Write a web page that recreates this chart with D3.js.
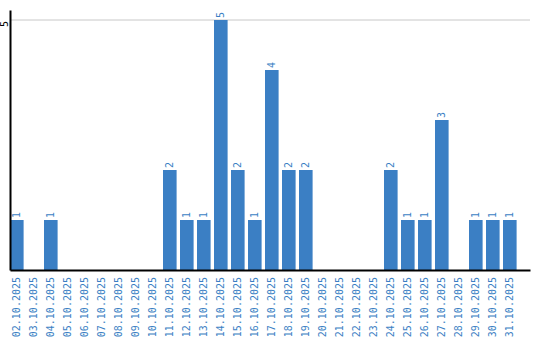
<!DOCTYPE html>
<html>
<head>
<meta charset="utf-8">
<script src="https://cdn.jsdelivr.net/npm/d3@7"></script>
<style>
  body { margin: 0; background: #fff; }
  svg { display: block; }
  text { font-family: "DejaVu Sans Mono", monospace; font-size: 10px; }
</style>
</head>
<body>
<svg id="chart" width="540" height="340"></svg>
<script>
// Days of October 2025 and the count for each day.
const days = ['02', '03', '04', '05', '06', '07', '08', '09', '10', '11',
  '12', '13', '14', '15', '16', '17', '18', '19', '20', '21',
  '22', '23', '24', '25', '26', '27', '28', '29', '30', '31'];
const categories = days.map(d => d + '.10.2025');
const counts = [1, 0, 1, 0, 0, 0, 0, 0, 0, 2,
  1, 1, 5, 2, 1, 4, 2, 2, 0, 0,
  0, 0, 2, 1, 1, 3, 0, 1, 1, 1];
const yTicks = [5];

const blue = '#3b7fc4';
const svg = d3.select('#chart');

const x = d3.scaleBand()
  .domain(categories)
  .range([10, 530])
  .paddingInner(0.2)
  .paddingOuter(0.394)
  .align(0);

const y = d3.scaleLinear()
  .domain([0, 5.2])
  .range([270, 10]);

// gridline for each y tick
svg.append('g')
  .selectAll('line')
  .data(yTicks)
  .enter().append('line')
  .attr('x1', 10).attr('x2', 530)
  .attr('y1', d => y(d)).attr('y2', d => y(d))
  .attr('stroke', '#c8c8c8')
  .attr('stroke-width', 1);

// bars
svg.append('g')
  .selectAll('rect')
  .data(counts)
  .enter().append('rect')
  .attr('x', (d, i) => x(categories[i]))
  .attr('y', d => y(d))
  .attr('width', x.bandwidth())
  .attr('height', d => y(0) - y(d))
  .attr('fill', blue);

// value labels, rotated, just above each non-empty bar
svg.append('g')
  .selectAll('text')
  .data(counts.map((v, i) => ({ v, c: categories[i] })).filter(d => d.v > 0))
  .enter().append('text')
  .attr('transform', d => `translate(${x(d.c) + x.bandwidth() / 2 + 3.5},${y(d.v) - 2}) rotate(-90)`)
  .attr('fill', blue)
  .text(d => d.v);

// x axis
const xAxis = svg.append('g')
  .attr('transform', `translate(0,${y(0)})`)
  .call(d3.axisBottom(x).tickSize(0).tickSizeOuter(0));
xAxis.select('.domain').attr('stroke', '#000').attr('stroke-width', 2);
xAxis.selectAll('text')
  .attr('fill', blue)
  .attr('font-family', '"DejaVu Sans Mono", monospace')
  .attr('font-size', 10)
  .attr('text-anchor', 'end')
  .attr('dy', null)
  .attr('y', 0)
  .attr('transform', 'translate(3.5,7) rotate(-90)');

// y axis
const yAxis = svg.append('g')
  .attr('transform', 'translate(10,0)')
  .call(d3.axisLeft(y).tickValues(yTicks).tickFormat(d3.format('d')).tickSize(0).tickSizeOuter(0));
yAxis.select('.domain').attr('stroke', '#000').attr('stroke-width', 2);
yAxis.selectAll('text')
  .attr('fill', '#000')
  .attr('font-family', '"DejaVu Sans Mono", monospace')
  .attr('font-size', 8)
  .attr('text-anchor', 'middle')
  .attr('x', 0)
  .attr('dy', null)
  .attr('transform', 'translate(-2.5,3.5) rotate(-90)');
</script>
</body>
</html>
